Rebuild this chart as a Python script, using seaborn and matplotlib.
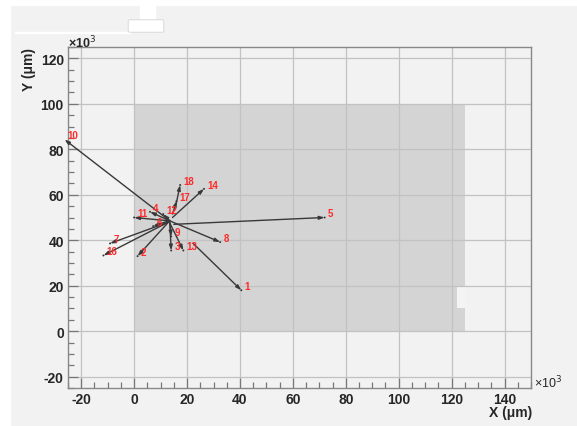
import matplotlib
matplotlib.use("Agg")
import matplotlib.pyplot as plt
import seaborn as sns
import pandas as pd
from matplotlib.patches import Rectangle, FancyBboxPatch
from matplotlib.ticker import MultipleLocator

# ---- data (units: x10^3 um) ----
labels = ["1", "2", "3", "4", "5", "6", "7", "8", "9", "10",
          "11", "12", "13", "14", "16", "17", "18"]
x_start = [22.3, 13.0, 13.5, 13.5, 15.0, 13.0, 13.0, 13.5, 13.5, 13.5,
           13.5, 13.5, 13.5, 14.5, 13.0, 14.5, 15.5]
y_start = [38.6, 48.0, 47.5, 48.5, 47.0, 48.5, 48.0, 48.5, 48.0, 48.5,
           48.5, 48.5, 47.5, 50.0, 48.0, 51.5, 54.0]
x_end = [40.5, 1.3, 14.0, 6.0, 72.0, 7.2, -9.1, 32.5, 14.0, -26.3,
         0.0, 11.0, 18.6, 26.4, -11.6, 16.0, 17.4]
y_end = [18.0, 33.0, 35.5, 52.5, 50.0, 46.2, 38.6, 39.2, 41.7, 84.3,
         50.0, 51.5, 35.5, 62.6, 33.3, 57.2, 64.3]

sensor_x = [0, 125]
sensor_y = [0, 100]
notch_x = [122.2, 125.2]
notch_y = [10, 19.9]

x_lim = [-25, 150]
y_lim = [-25, 125]

df = pd.DataFrame({"label": labels, "x0": x_start, "y0": y_start,
                   "x1": x_end, "y1": y_end})

sns.set_theme(style="ticks")
plt.rcParams["font.family"] = ["Liberation Sans", "DejaVu Sans"]
plt.rcParams["axes.unicode_minus"] = False

W, H = 577, 427
fig = plt.figure(figsize=(W / 100, H / 100), dpi=100)
fig.patch.set_facecolor("#f2f2f2")

# screenshot frame artefacts (white strips / tab)
fig.patches.append(Rectangle((0, 1 - 6 / H), 1, 6 / H, transform=fig.transFigure,
                             color="white", zorder=0))
fig.patches.append(Rectangle((0, 0), 10 / W, 1, transform=fig.transFigure,
                             color="white", zorder=0))
fig.patches.append(Rectangle((15 / W, 1 - 34 / H), 115 / W, 1.2 / H,
                             transform=fig.transFigure, color="white", zorder=0))
fig.patches.append(Rectangle((140 / W, 1 - 22 / H), 15 / W, 17 / H,
                             transform=fig.transFigure, color="white", zorder=0))
fig.patches.append(FancyBboxPatch((130 / W, 1 - 32 / H), 32 / W, 10 / H,
                                  boxstyle="round,pad=0.003",
                                  transform=fig.transFigure, facecolor="white",
                                  edgecolor="#dddddd", lw=0.8, zorder=0))

ax = fig.add_axes([68 / W, 38 / H, 463 / W, 341 / H])
ax.set_facecolor("#f2f2f2")

# sensor area
ax.add_patch(Rectangle((sensor_x[0], sensor_y[0]), sensor_x[1] - sensor_x[0],
                       sensor_y[1] - sensor_y[0], facecolor="#d4d4d4",
                       edgecolor="none", zorder=0.2))
ax.add_patch(Rectangle((notch_x[0], notch_y[0]), notch_x[1] - notch_x[0],
                       notch_y[1] - notch_y[0], facecolor="#f4f4f4",
                       edgecolor="none", zorder=0.3))

ax.set_xlim(x_lim)
ax.set_ylim(y_lim)

# arrow tips via seaborn scatter (tiny), arrows via annotate
sns.scatterplot(data=df, x="x1", y="y1", ax=ax, s=2, color="#333333",
                edgecolor="none", zorder=3, legend=False)

for _, r in df.iterrows():
    ax.annotate("", xy=(r.x1, r.y1), xytext=(r.x0, r.y0),
                arrowprops=dict(arrowstyle="-|>,head_length=0.3,head_width=0.1",
                                mutation_scale=10,
                                color="#383838", lw=1.0, shrinkA=0, shrinkB=0),
                zorder=3, annotation_clip=False)
    ax.annotate(r.label, xy=(r.x1, r.y1), xytext=(2.3, 3.0),
                textcoords="offset points", ha="left", va="center",
                color="#ff2a2a", fontsize=7, fontweight="bold", zorder=4,
                annotation_clip=False)

ax.xaxis.set_major_locator(MultipleLocator(20))
ax.xaxis.set_minor_locator(MultipleLocator(5))
ax.yaxis.set_major_locator(MultipleLocator(20))
ax.yaxis.set_minor_locator(MultipleLocator(5))
ax.grid(True, which="major", color="#c2c2c2", lw=0.9)
ax.set_axisbelow(True)

ax.tick_params(axis="both", which="major", direction="in", length=7,
               width=0.9, color="#777777", labelsize=10, pad=3,
               top=False, right=False)
ax.tick_params(axis="both", which="minor", direction="in", length=4,
               width=0.9, color="#777777", top=False, right=False)
for lab in ax.get_xticklabels() + ax.get_yticklabels():
    lab.set_fontweight("bold")

for s in ax.spines.values():
    s.set_color("#888888")
    s.set_linewidth(1.0)

ax.set_xlabel("")
ax.set_ylabel("")
fig.text(532 / W, 1 - 413 / H, "X (\u03bcm)", ha="right", va="center",
         fontsize=10, fontweight="bold")
fig.text(29 / W, 1 - 48 / H, "Y (\u03bcm)", ha="center", va="top",
         rotation=90, fontsize=10, fontweight="bold")
fig.text(68 / W, 1 - 43 / H, "\u00d710$^{3}$", ha="left", va="center",
         fontsize=9, fontweight="bold")
fig.text(534 / W, 1 - 383 / H, "\u00d710$^{3}$", ha="left", va="center",
         fontsize=9)

fig.savefig("out.png", dpi=100, facecolor=fig.get_facecolor())
